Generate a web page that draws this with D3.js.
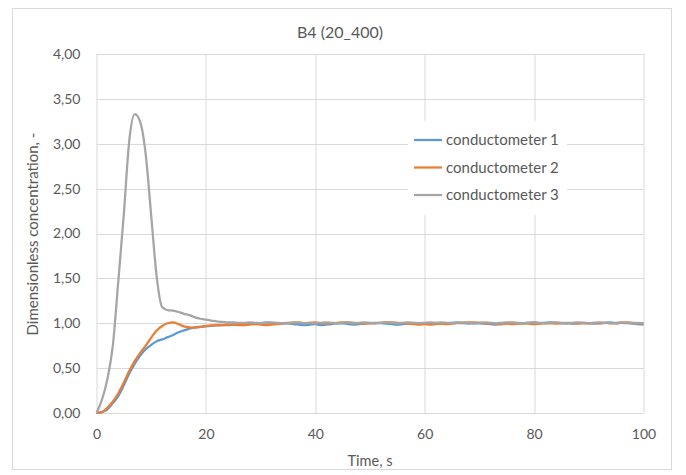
<!DOCTYPE html>
<html>
<head>
<meta charset="utf-8">
<script src="https://cdn.jsdelivr.net/npm/d3@7"></script>
<style>
  body { margin: 0; background: #fff; }
  text { font-family: Lato, "Open Sans", sans-serif; fill: #595959; }
</style>
</head>
<body>
<div id="chart"></div>
<script>
var title = "B4 (20_400)";
var x_title = "Time, s";
var y_title = "Dimensionless concentration, -";
var x_ticks = [0, 20, 40, 60, 80, 100];
var y_ticks = [0, 0.5, 1, 1.5, 2, 2.5, 3, 3.5, 4];
var series_names = ["conductometer 1", "conductometer 2", "conductometer 3"];
var colours = ["#5b9bd5", "#ed7d31", "#a5a5a5"];

// sample times, one per second
var time = d3.range(0, 101);

var cond1 = [0, 0.01, 0.04, 0.11, 0.19, 0.31, 0.44, 0.55, 0.64, 0.71,
    0.76, 0.80, 0.82, 0.845, 0.87, 0.90, 0.92, 0.94, 0.955, 0.96,
    0.965, 0.97, 0.975, 0.98, 0.98, 0.985, 0.99, 1.00, 1.00, 0.995,
    1.00, 1.01, 1.00, 0.995, 1.00, 1.00, 0.99, 0.985, 0.98, 0.985,
    0.99, 0.98, 0.985, 0.99, 1.00, 1.00, 0.99, 0.985, 0.99, 0.995,
    1.00, 1.005, 1.00, 0.995, 0.99, 0.985, 0.99, 0.995, 1.00, 1.00,
    0.995, 1.00, 1.005, 1.00, 1.00, 1.005, 1.01, 1.00, 0.995, 1.00,
    1.00, 0.995, 0.99, 0.985, 0.99, 1.00, 1.005, 1.00, 1.00, 1.005,
    1.01, 1.00, 1.005, 1.01, 1.005, 1.00, 1.00, 0.995, 1.00, 1.005,
    1.00, 0.995, 1.00, 1.005, 1.01, 1.00, 1.005, 1.00, 0.995, 0.99,
    0.985];

var cond2 = [0, 0.01, 0.06, 0.13, 0.22, 0.34, 0.47, 0.58, 0.67, 0.75,
    0.84, 0.92, 0.97, 1.00, 1.01, 0.99, 0.965, 0.955, 0.95, 0.96,
    0.97, 0.975, 0.98, 0.98, 0.985, 0.985, 0.98, 0.98, 0.985, 0.99,
    0.985, 0.98, 0.985, 0.99, 0.995, 1.00, 1.005, 1.01, 1.00, 1.005,
    1.01, 1.00, 0.995, 1.00, 1.005, 1.01, 1.01, 1.005, 1.00, 0.995,
    1.00, 1.00, 1.005, 1.01, 1.01, 1.005, 1.00, 0.995, 0.99, 0.985,
    0.99, 0.985, 0.99, 0.995, 0.99, 0.995, 1.00, 1.005, 1.01, 1.01,
    1.005, 1.00, 1.00, 0.995, 0.99, 0.995, 0.99, 0.995, 1.00, 0.995,
    0.99, 0.995, 1.00, 1.00, 0.995, 1.00, 1.005, 1.00, 0.995, 1.00,
    1.00, 1.005, 1.00, 1.005, 1.00, 1.00, 1.005, 1.01, 1.005, 1.00,
    1.00];

var cond3 = [0, 0.15, 0.38, 0.76, 1.48, 2.22, 3.04, 3.33, 3.24, 2.88,
    2.20, 1.52, 1.18, 1.145, 1.14, 1.125, 1.105, 1.09, 1.065, 1.05,
    1.04, 1.03, 1.02, 1.015, 1.01, 1.01, 1.005, 1.005, 1.01, 1.005,
    1.00, 1.005, 1.01, 1.005, 1.00, 1.005, 1.01, 1.005, 1.00, 1.005,
    1.00, 1.005, 1.01, 1.005, 1.00, 1.005, 1.01, 1.00, 1.005, 1.01,
    1.005, 1.00, 1.005, 1.01, 1.005, 1.00, 1.005, 1.01, 1.005, 1.00,
    1.005, 1.01, 1.005, 1.01, 1.005, 1.00, 1.005, 1.01, 1.005, 1.00,
    1.005, 1.01, 1.005, 1.00, 1.005, 1.01, 1.01, 1.005, 1.00, 1.005,
    1.01, 1.005, 1.00, 1.005, 1.01, 1.005, 1.00, 1.005, 1.01, 1.005,
    1.00, 1.005, 1.01, 1.005, 1.00, 1.005, 1.01, 1.005, 1.00, 1.005,
    1.00];

var series_values = [cond1, cond2, cond3];

var total_w = 686, total_h = 475;
var margin = {top: 54, right: 42.5, bottom: 62, left: 96.5};
var width = total_w - margin.left - margin.right,
    height = total_h - margin.top - margin.bottom;

var svg = d3.select("#chart").append("svg")
    .attr("width", total_w)
    .attr("height", total_h);

// chart area border
svg.append("rect")
    .attr("x", 12.5).attr("y", 8.5)
    .attr("width", 659).attr("height", 461)
    .attr("fill", "#fff")
    .attr("stroke", "#d9d9d9");

var g = svg.append("g")
    .attr("transform", "translate(" + margin.left + "," + margin.top + ")");

var xScale = d3.scaleLinear().domain([0, 100]).range([0, width]);
var yScale = d3.scaleLinear().domain([0, 4]).range([height, 0]);
var fmt = function(v) { return d3.format(".2f")(v).replace(".", ","); };

// gridlines
g.append("g").selectAll("line.hgrid")
    .data(y_ticks)
    .enter().append("line")
    .attr("x1", 0).attr("x2", width)
    .attr("y1", function(d) { return Math.round(yScale(d)) + 0.5; })
    .attr("y2", function(d) { return Math.round(yScale(d)) + 0.5; })
    .attr("stroke", "#d9d9d9");

g.append("g").selectAll("line.vgrid")
    .data(x_ticks)
    .enter().append("line")
    .attr("y1", 0).attr("y2", height)
    .attr("x1", function(d) { return Math.round(xScale(d)) + 0.5; })
    .attr("x2", function(d) { return Math.round(xScale(d)) + 0.5; })
    .attr("stroke", "#d9d9d9");

// axes (labels only)
var xAxis = d3.axisBottom(xScale).tickValues(x_ticks).tickSize(0).tickPadding(16);
var yAxis = d3.axisLeft(yScale).tickValues(y_ticks).tickFormat(fmt).tickSize(0).tickPadding(16);

var x_axis_elem = g.append("g")
    .attr("transform", "translate(0," + height + ")")
    .call(xAxis);
var y_axis_elem = g.append("g").call(yAxis);

[x_axis_elem, y_axis_elem].forEach(function(a) {
    a.select(".domain").remove();
    a.selectAll("text")
        .style("font-family", "Lato, 'Open Sans', sans-serif")
        .style("font-size", "14px")
        .attr("fill", "#595959");
});

// series
var line = d3.line()
    .curve(d3.curveMonotoneX)
    .x(function(d) { return xScale(d[0]); })
    .y(function(d) { return yScale(d[1]); });

series_values.forEach(function(vals, i) {
    g.append("path")
        .datum(time.map(function(t, j) { return [t, vals[j]]; }))
        .attr("d", line)
        .attr("fill", "none")
        .attr("stroke", colours[i])
        .attr("stroke-width", 2.25)
        .attr("stroke-linejoin", "round");
});

// legend
var legend = svg.append("g").attr("transform", "translate(408,121)");
legend.append("rect")
    .attr("width", 159).attr("height", 94)
    .attr("fill", "#fff");
var leg_item = legend.selectAll(".leg")
    .data(series_names)
    .enter().append("g")
    .attr("transform", function(d, i) { return "translate(0," + (19 + i * 27.5) + ")"; });
leg_item.append("line")
    .attr("x1", 6).attr("x2", 34)
    .attr("stroke", function(d, i) { return colours[i]; })
    .attr("stroke-width", 2.25);
leg_item.append("text")
    .attr("x", 38).attr("dy", "0.35em")
    .style("font-size", "15px")
    .text(function(d) { return d; });

// titles
svg.append("text")
    .attr("x", 340).attr("y", 32)
    .attr("text-anchor", "middle")
    .attr("dy", "0.35em")
    .style("font-size", "16px")
    .text(title);

svg.append("text")
    .attr("x", 370).attr("y", 461)
    .attr("text-anchor", "middle")
    .attr("dy", "0.35em")
    .style("font-size", "14.5px")
    .text(x_title);

svg.append("text")
    .attr("transform", "translate(33,234) rotate(-90)")
    .attr("text-anchor", "middle")
    .attr("dy", "0.35em")
    .style("font-size", "15px")
    .text(y_title);
</script>
</body>
</html>
